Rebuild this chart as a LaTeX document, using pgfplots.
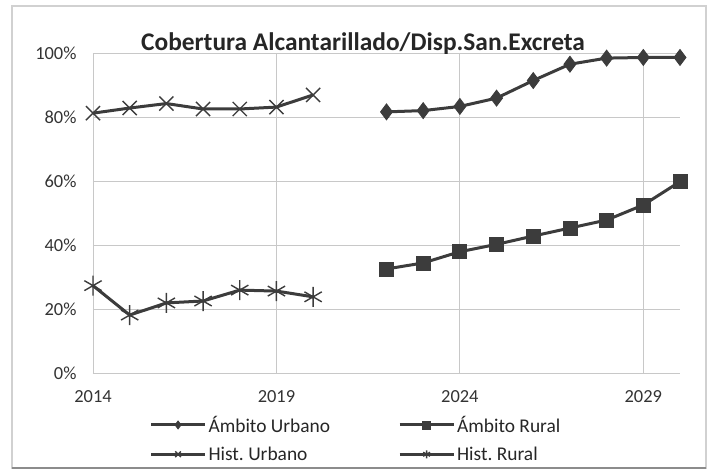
\documentclass[border=0pt]{standalone}
\usepackage{fontspec}
\setmainfont{Carlito}
\usepackage{pgfplots}
\pgfplotsset{compat=1.18}
\definecolor{serie}{HTML}{3C3C3C}
\definecolor{rejilla}{HTML}{C8C8C8}

\begin{document}
\begin{tikzpicture}[x=1bp,y=1bp]
\path (-93bp,-102bp) rectangle (615bp,373bp);
\draw[black!18,line width=1.2bp] (-81bp,-95bp) rectangle (613bp,367bp);
\draw[black!45,line width=1.5bp] (-81bp,-95bp) -- (613bp,-95bp);
\begin{axis}[
  at={(0,0)}, anchor=south west,
  scale only axis,
  width=587bp, height=320bp,
  xmin=2014, xmax=2030,
  ymin=0, ymax=100,
  xtick={2014,2019,2024,2029},
  ytick={0,20,40,60,80,100},
  x tick label style={/pgf/number format/1000 sep={}},
  /pgf/number format/assume math mode=true,
  yticklabel={\pgfmathprintnumber{\tick}\%},
  tick label style={font=\fontsize{18.5}{20}\selectfont, text=black!80},
  xticklabel style={yshift=-14bp},
  yticklabel style={xshift=-13bp},
  major tick length=0pt,
  axis x line=bottom, axis y line=left,
  axis line style={rejilla, -},
  grid=major,
  grid style={rejilla, line width=0.8bp},
  clip=false,
  legend columns=2,
  legend style={at={(0.448,-0.206)}, anchor=center, draw=none, fill=none,
    font=\fontsize{19.5}{21}\selectfont, text=black!85,
    /tikz/every even column/.append style={column sep=66bp},
    row sep=9bp, inner sep=0pt},
  legend cell align=left,
  legend image code/.code={%
    \draw[mark repeat=2,mark phase=2,mark size=4bp] plot coordinates {(0bp,0bp) (27bp,0bp) (54bp,0bp)};},
  every axis plot/.append style={serie, line width=3bp},
]
\addplot[mark=diamond*, mark size=8bp, mark options={fill=serie, line width=0.8bp}] coordinates {
  (2022,81.6) (2023,82.0) (2024,83.3) (2025,85.9) (2026,91.4) (2027,96.5) (2028,98.4) (2029,98.6) (2030,98.6)
};
\addplot[mark=square*, mark size=7bp, mark options={fill=serie, line width=0.8bp}] coordinates {
  (2022,32.5) (2023,34.4) (2024,37.9) (2025,40.2) (2026,42.8) (2027,45.3) (2028,47.8) (2029,52.5) (2030,59.8)
};
\addplot[mark=x, mark size=10bp, mark options={line width=1.4bp}] coordinates {
  (2014,81.2) (2015,82.8) (2016,84.2) (2017,82.5) (2018,82.5) (2019,83.1) (2020,86.9)
};
\addplot[mark=asterisk, mark size=10bp, mark options={line width=1.4bp}] coordinates {
  (2014,27.3) (2015,18.1) (2016,21.9) (2017,22.5) (2018,25.9) (2019,25.6) (2020,23.8)
};
\legend{Ámbito Urbano, Ámbito Rural, Hist.\ Urbano, Hist.\ Rural}
\node[font=\fontsize{25.5}{27}\selectfont\bfseries, text=black!85] at (rel axis cs:0.46,1.03) {Cobertura Alcantarillado/Disp.San.Excreta};
\end{axis}
\end{tikzpicture}
\end{document}
